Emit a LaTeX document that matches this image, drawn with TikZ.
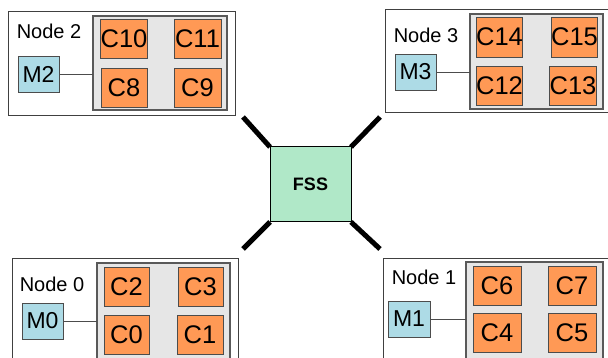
\documentclass[tikz,border=0pt]{standalone}
\usepackage{fontspec}
\setmainfont{Liberation Sans}
\definecolor{corange}{HTML}{FF9955}
\definecolor{memblue}{HTML}{ADDBE6}
\definecolor{grpgray}{HTML}{E6E6E6}
\definecolor{fssgreen}{HTML}{B0E8C8}
\begin{document}
\begin{tikzpicture}[x=1pt,y=-1pt,
  every node/.style={inner sep=0pt,outer sep=0pt},
  nodebox/.style={draw=black!75,line width=0.8pt,fill=white,rectangle},
  grp/.style={draw=black!65,fill=grpgray,line width=1.5pt,rectangle},
  core/.style={draw=black!70,fill=corange,line width=0.8pt,rectangle,minimum height=39pt,minimum width=46pt,font=\fontsize{25.5}{25.5}\selectfont},
  mem/.style={draw=black!70,fill=memblue,line width=0.8pt,rectangle,minimum width=41pt,minimum height=36pt,font=\fontsize{23}{23}\selectfont},
  lbl/.style={font=\fontsize{20}{20}\selectfont},
  fssbox/.style={draw=black,fill=fssgreen,line width=1pt,rectangle,font=\bfseries\fontsize{18}{18}\selectfont},
  link/.style={line width=5pt},
  wire/.style={draw=black!70,line width=0.8pt}]
\useasboundingbox (0,0) rectangle (608,358);
\clip (0,0) rectangle (608,358);

% Node 2
\node[nodebox,minimum width=227pt,minimum height=104pt] (n2) at (121.5,63) {};
\node[grp,minimum width=134pt,minimum height=94pt] (g2) at (160,63) {};
\node[core] (c10) at (124,38.5) {C10};
\node[core,minimum width=47pt] (c11) at (197.5,38.5) {C11};
\node[core] (c8) at (124,87.5) {C8};
\node[core,minimum width=47pt] (c9) at (197.5,87.5) {C9};
\node[mem] (m2) at (38.5,74) {M2};
\node[lbl] (t2) at (49,31) {Node 2};
\draw[wire] (m2.east) -- (m2.center -| g2.west);

% Node 3
\node[nodebox,minimum width=230pt,minimum height=103pt] (n3) at (500,60.5) {};
\node[grp,minimum width=133pt,minimum height=95pt] (g3) at (536.5,61.5) {};
\node[core,minimum width=45pt,minimum height=40pt] (c14) at (499.5,37) {C14};
\node[core,minimum width=45pt,minimum height=40pt] (c15) at (574.5,37) {C15};
\node[core,minimum width=45pt] (c12) at (499.5,85.5) {C12};
\node[core,minimum width=46pt] (c13) at (573,85.5) {C13};
\node[mem] (m3) at (415.5,72) {M3};
\node[lbl] (t3) at (426,35) {Node 3};
\draw[wire] (m3.east) -- (m3.center -| g3.west);

% Node 0
\node[nodebox,minimum width=226pt,minimum height=112pt] (n0) at (125,314) {};
\node[grp,minimum width=133pt,minimum height=107pt] (g0) at (163.5,316.5) {};
\node[core,minimum width=45pt] (c2) at (126.5,286.5) {C2};
\node[core,minimum width=45pt] (c3) at (200.5,286.5) {C3};
\node[core,minimum width=45pt] (c0) at (126.5,334.5) {C0};
\node[core,minimum width=46pt] (c1) at (200,334.5) {C1};
\node[mem] (m0) at (42.5,321) {M0};
\node[lbl] (t0) at (52,284) {Node 0};
\draw[wire] (m0.east) -- (m0.center -| g0.west);

% Node 1
\node[nodebox,minimum width=232pt,minimum height=112pt] (n1) at (499,314) {};
\node[grp,minimum width=137pt,minimum height=108pt] (g1) at (534.5,316) {};
\node[core,minimum width=48pt] (c6) at (497,285.5) {C6};
\node[core,minimum width=48pt] (c7) at (572,285.5) {C7};
\node[core,minimum width=48pt] (c4) at (497,332.5) {C4};
\node[core,minimum width=48pt] (c5) at (572,332.5) {C5};
\node[mem,minimum width=42pt] (m1) at (409,319) {M1};
\node[lbl] (t1) at (424,277) {Node 1};
\draw[wire] (m1.east) -- (m1.center -| g1.west);

% FSS
\node[fssbox,minimum width=81pt,minimum height=75pt] (fss) at (310.5,184.5) {FSS};
\coordinate (eNW) at (243,117);
\coordinate (eNE) at (380,117);
\coordinate (eSW) at (243,249);
\coordinate (eSE) at (380,249);
\draw[link] (fss.north west) -- (eNW);
\draw[link] (fss.north east) -- (eNE);
\draw[link] (fss.south west) -- (eSW);
\draw[link] (fss.south east) -- (eSE);
\end{tikzpicture}
\end{document}
